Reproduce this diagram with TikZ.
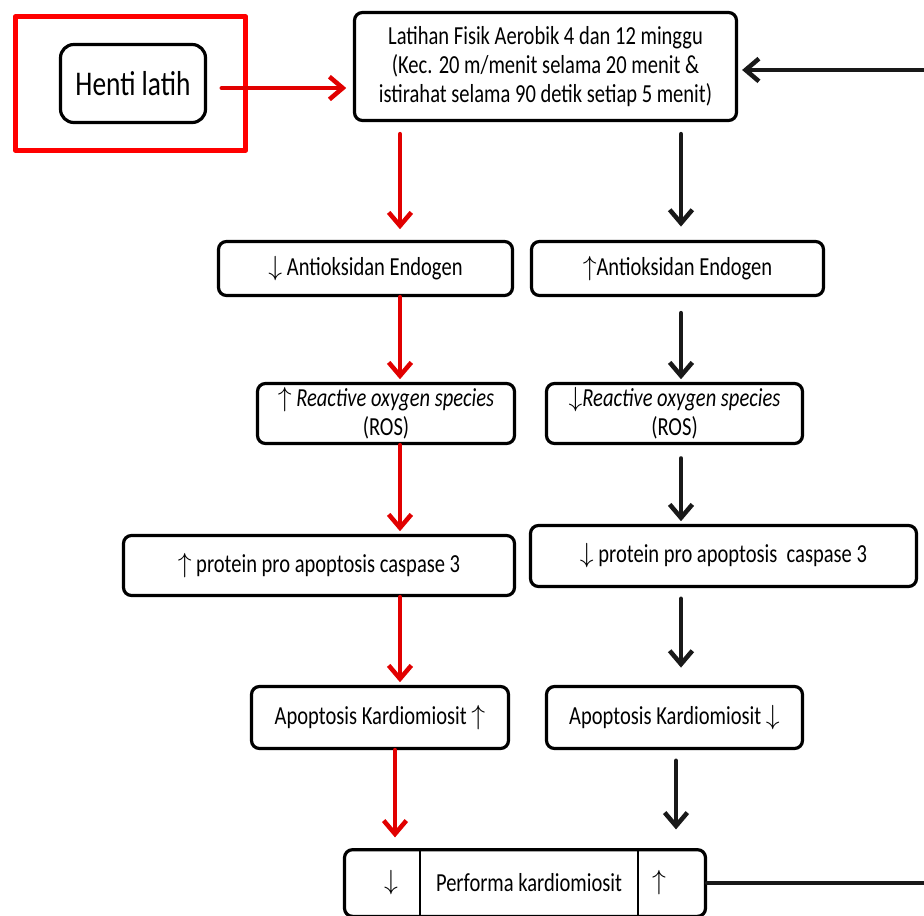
\documentclass[tikz,border=0pt]{standalone}
\usepackage{fontspec}
\setmainfont[FakeStretch=0.79]{Carlito}
\usetikzlibrary{arrows.meta}
\definecolor{tred}{RGB}{225,0,0}

\begin{document}
\begin{tikzpicture}[x=0.75pt,y=-0.75pt,
  line cap=round,line join=round,
  every node/.style={font=\fontsize{19.5}{21.5}\selectfont,align=center},
  bx/.style={draw,line width=2.4pt,rounded corners=6pt,inner sep=0pt},
  sz/.style 2 args={minimum width=#1,minimum height=#2},
  R/.style={draw=tred,line width=3.4pt,-{Straight Barb[length=10pt,width=17pt]}},
  B/.style={draw=black!90,line width=3.4pt,-{Straight Barb[length=10pt,width=17pt]}}]

  \useasboundingbox (0,0) rectangle (924,915);
  \clip (0,0) rectangle (924,915);

  %% ---- columns the vertical arrows run along
  \coordinate (colL)  at (400,0);
  \coordinate (colR)  at (681,0);
  \coordinate (colLb) at (395,0);
  \coordinate (colRb) at (676,0);
  \coordinate (loopX) at (934,0);

  %% ---- top row
  \node[bx,sz={108.75pt}{58.5pt},rounded corners=10pt,font=\fontsize{26}{30}\selectfont] (henti) at (133,83.5) {Henti latih};
  \node[draw=red,line width=3.6pt,sz={173pt}{100pt}] (frame) at (130.5,83.5) {};
  \node[bx,sz={286.5pt}{81pt}] (latihan) at (545.5,66.5)
    {Latihan Fisik Aerobik 4 dan 12 minggu\\(Kec. 20 m/menit selama 20 menit \&\\istirahat selama 90 detik setiap 5 menit)};

  %% ---- left column (henti latih)
  \node[bx,sz={220.5pt}{40.5pt}] (antiL) at (365.5,268.5) {$\downarrow$ Antioksidan Endogen};
  \node[bx,sz={192.75pt}{45pt}]  (rosL)  at (386,413.5) {$\uparrow$ \textit{Reactive oxygen species}\\(ROS)};
  \node[bx,sz={293.25pt}{45pt}]  (casL)  at (319,565.5) {$\uparrow$ protein pro apoptosis caspase 3};
  \node[bx,sz={192.75pt}{46.5pt}] (apoL) at (380,717.5) {Apoptosis Kardiomiosit $\uparrow$};

  %% ---- right column (latihan)
  \node[bx,sz={219pt}{40.5pt}]   (antiR) at (677.5,268.5) {$\uparrow$Antioksidan Endogen};
  \node[bx,sz={192pt}{45pt}]     (rosR)  at (674.5,413.5) {$\downarrow$\textit{Reactive oxygen species}\\(ROS)};
  \node[bx,sz={289.5pt}{45.75pt}] (casR) at (723.5,556) {$\downarrow$ protein pro apoptosis\ \ caspase 3};
  \node[bx,sz={192pt}{46.5pt}]   (apoR)  at (674.5,717.5) {Apoptosis Kardiomiosit $\downarrow$};

  %% ---- bottom: performa kardiomiosit, split in three
  \node[bx,sz={270.75pt}{50pt}] (perf) at (525,883) {};
  \node (perfDn) at (391,883) {$\downarrow$};
  \node (perfT)  at (529,883) {Performa kardiomiosit};
  \node (perfUp) at (659,883) {$\uparrow$};
  \draw[line width=1pt] (420,849) -- (420,930);
  \draw[line width=1pt] (638,849) -- (638,930);

  %% ---- arrows
  \draw[R,shorten <=11pt,shorten >=5pt] ([yshift=-3.4pt]henti.east) -- ([yshift=-3.4pt]henti.east -| latihan.west);
  \draw[B] (perf.east) -- (perf.east -| loopX) -- ([yshift=-2.6pt]latihan.east -| loopX)
    -- ([yshift=-2.6pt,xshift=3pt]latihan.east);
  % left column
  \draw[R,shorten <=9pt,shorten >=8pt] (latihan.south -| colL) -- (antiL.north -| colL);
  \draw[R,shorten >=2pt] (antiL.south -| colL) -- (rosL.north -| colL);
  \draw[R,shorten >=2pt] (rosL.south -| colL) -- (casL.north -| colL);
  \draw[R,shorten >=2pt] (casL.south -| colL) -- (apoL.north -| colL);
  \draw[R,shorten >=8pt] (apoL.south -| colLb) -- (perf.north -| colLb);
  % right column
  \draw[B,shorten <=9pt,shorten >=10pt] (latihan.south -| colR) -- (antiR.north -| colR);
  \draw[B,shorten <=12pt,shorten >=2pt] (antiR.south -| colR) -- (rosR.north -| colR);
  \draw[B,shorten <=10pt,shorten >=2pt] (rosR.south -| colR) -- (casR.north -| colR);
  \draw[B,shorten <=8pt,shorten >=13pt] (casR.south -| colR) -- (apoR.north -| colR);
  \draw[B,shorten <=8pt,shorten >=14pt] (apoR.south -| colRb) -- (perf.north -| colRb);
\end{tikzpicture}
\end{document}
